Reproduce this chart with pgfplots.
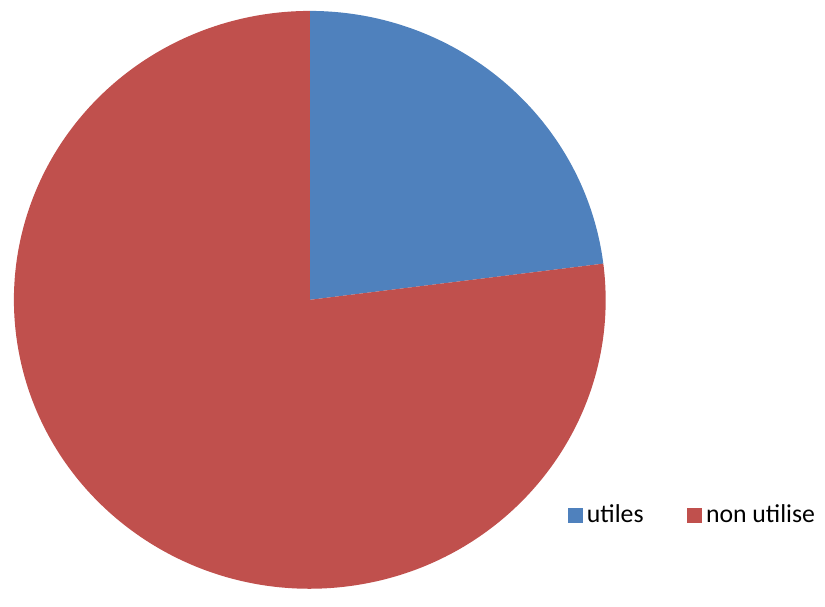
\documentclass[border=0pt]{standalone}
\usepackage{pgfplots}
\pgfplotsset{compat=1.18}
\usepackage{pgfplotstable}
\usepackage{fontspec}
\setmainfont{Carlito}
\definecolor{sblue}{HTML}{4F81BD}
\definecolor{sred}{HTML}{C0504D}

% share of each slice (percent)
\pgfplotstableread{
label value
utiles 23
nonutilise 77
}\piedata

\begin{document}
\begin{tikzpicture}
\pgfplotstablegetelem{0}{value}\of\piedata \let\va\pgfplotsretval
\pgfplotstablegetelem{1}{value}\of\piedata \let\vb\pgfplotsretval
\pgfmathsetmacro{\aend}{90-360*\va/(\va+\vb)}
\begin{axis}[
    x=0.5bp, y=0.5bp,
    xmin=0, xmax=825, ymin=0, ymax=592,
    scale only axis,
    hide axis,
    clip=false,
    legend columns=2,
    legend style={at={(axis cs:565,74)}, anchor=west, draw=none, fill=none,
        font=\fontsize{13}{15}\selectfont,
        /tikz/every even column/.append style={column sep=20bp}},
    legend cell align=left,
    legend image code/.code={\fill[#1] (0bp,-3.5bp) rectangle (7bp,3.5bp);},
]
\path (axis cs:0,0) rectangle (axis cs:825,592);
\fill[sblue] (axis cs:311.5,290.5) -- ++(0,145.25bp)
    arc[start angle=90, end angle=\aend, x radius=148.75bp, y radius=145.25bp] -- cycle;
\fill[sred] (axis cs:311.5,290.5) -- ++({148.75*cos(\aend)*1bp},{145.25*sin(\aend)*1bp})
    arc[start angle=\aend, end angle=-270, x radius=148.75bp, y radius=145.25bp] -- cycle;
\addlegendimage{sblue}
\addlegendentry{utiles}
\addlegendimage{sred}
\addlegendentry{non utilise}
\end{axis}
\end{tikzpicture}
\end{document}
